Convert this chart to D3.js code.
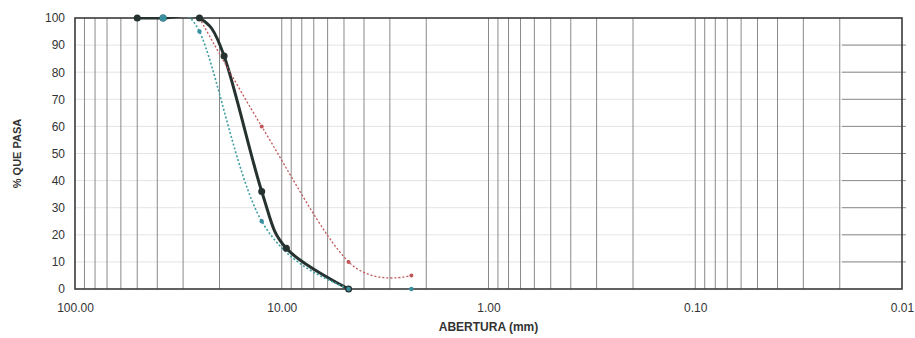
<!DOCTYPE html>
<html>
<head>
<meta charset="utf-8">
<script src="https://cdn.jsdelivr.net/npm/d3@7"></script>
<style>
  body { margin: 0; background: #fff; }
  svg { display: block; font-family: "Liberation Sans", Arial, sans-serif; }
</style>
</head>
<body>
<div id="chart"></div>
<script>
// sieve openings (mm) and % passing
const sieves = [50, 37.5, 25, 19, 12.5, 9.5, 4.75, 2.36];
const muestra = [100, 100, 100, 86, 36, 15, 0, null];
const limInf = [null, 100, 95, null, 25, null, 0, 0];
const limSup = [null, null, 100, null, 60, null, 10, 5];

const xLabels = [100, 10, 1, 0.1, 0.01];
const yTicks = [0, 10, 20, 30, 40, 50, 60, 70, 80, 90, 100];

const W = 915, H = 338;
const margin = { top: 18, right: 13, bottom: 49, left: 75 };

const svg = d3.select("#chart").append("svg")
    .attr("width", W)
    .attr("height", H);

const x = d3.scaleLog()
    .domain([100, 0.01])
    .range([margin.left, W - margin.right]);

const y = d3.scaleLinear()
    .domain([0, 100])
    .range([H - margin.bottom, margin.top]);

const pts = vals => sieves.map((s, i) => ({ s: s, v: vals[i] })).filter(d => d.v !== null);

svg.append("clipPath").attr("id", "clip")
  .append("rect")
    .attr("x", margin.left).attr("y", margin.top - 1)
    .attr("width", x.range()[1] - margin.left)
    .attr("height", y(0) - margin.top + 2);

// faint horizontal grid
svg.append("g")
  .selectAll("line")
  .data(yTicks.slice(1, -1))
  .join("line")
    .attr("x1", margin.left).attr("x2", x.range()[1])
    .attr("y1", d => y(d)).attr("y2", d => y(d))
    .attr("stroke", "#e4e4e4");

// darker stubs at the right edge
svg.append("g")
  .selectAll("line")
  .data(yTicks.slice(1, -1))
  .join("line")
    .attr("x1", x(0.0195)).attr("x2", x.range()[1] + 4)
    .attr("y1", d => y(d)).attr("y2", d => y(d))
    .attr("stroke", "#8c8c8c");

// vertical log grid
svg.append("g")
  .selectAll("line")
  .data(x.ticks().filter(d => d < 100 && d > 0.01))
  .join("line")
    .attr("x1", d => x(d)).attr("x2", d => x(d))
    .attr("y1", margin.top).attr("y2", y(0))
    .attr("stroke", "#8a8a8a");

// plot border
svg.append("rect")
    .attr("x", margin.left).attr("y", margin.top)
    .attr("width", x.range()[1] - margin.left)
    .attr("height", y(0) - margin.top)
    .attr("fill", "none")
    .attr("stroke", "#3a3a3a")
    .attr("stroke-width", 1.6);

// excel-like smoothing
const line = d3.line()
    .x(d => x(d.s))
    .y(d => y(d.v))
    .curve(d3.curveCardinal.tension(0));

const plot = svg.append("g").attr("clip-path", "url(#clip)");

// sample curve
plot.append("path")
    .datum(pts(muestra))
    .attr("fill", "none")
    .attr("stroke", "#253230")
    .attr("stroke-width", 3)
    .attr("d", line);

// upper limit
plot.append("path")
    .datum(pts(limSup))
    .attr("fill", "none")
    .attr("stroke", "#c0575a")
    .attr("stroke-width", 1.3)
    .attr("stroke-dasharray", "2,2")
    .attr("d", line);

// lower limit
plot.append("path")
    .datum(pts(limInf))
    .attr("fill", "none")
    .attr("stroke", "#3f9fa3")
    .attr("stroke-width", 1.6)
    .attr("stroke-dasharray", "2,2")
    .attr("d", line);

svg.append("g")
  .selectAll("circle")
  .data(pts(limSup))
  .join("circle")
    .attr("cx", d => x(d.s)).attr("cy", d => y(d.v))
    .attr("r", 2)
    .attr("fill", "#c0575a");

svg.append("g")
  .selectAll("circle")
  .data(pts(muestra))
  .join("circle")
    .attr("cx", d => x(d.s)).attr("cy", d => y(d.v))
    .attr("r", 3.5)
    .attr("fill", "#253230");

svg.append("g")
  .selectAll("circle")
  .data(pts(limInf))
  .join("circle")
    .attr("cx", d => x(d.s)).attr("cy", d => y(d.v))
    .attr("r", (d, i) => i === 0 ? 3.5 : 2.2)
    .attr("fill", "#3a8fa0");

// axes
const xAxis = svg.append("g")
    .attr("transform", `translate(0,${y(0)})`)
    .call(d3.axisBottom(x).tickValues(xLabels).tickFormat(d3.format(".2f")).tickSize(0).tickPadding(14));
xAxis.select(".domain").remove();
xAxis.selectAll("text").attr("font-size", 12).attr("fill", "#333").attr("font-family", "Liberation Sans Narrow, Liberation Sans, sans-serif");

const yAxis = svg.append("g")
    .attr("transform", `translate(${margin.left},0)`)
    .call(d3.axisLeft(y).tickValues(yTicks).tickSize(0).tickPadding(10));
yAxis.select(".domain").remove();
yAxis.selectAll("text").attr("font-size", 12).attr("fill", "#333").attr("font-family", "Liberation Sans Narrow, Liberation Sans, sans-serif");

svg.append("text")
    .attr("x", (margin.left + x.range()[1]) / 2)
    .attr("y", 331)
    .attr("text-anchor", "middle")
    .attr("font-size", 12)
    .attr("font-weight", "bold")
    .attr("fill", "#333")
    .text("ABERTURA (mm)");

svg.append("text")
    .attr("transform", `translate(21,${(margin.top + y(0)) / 2}) rotate(-90)`)
    .attr("text-anchor", "middle")
    .attr("font-size", 11)
    .attr("font-weight", "bold")
    .attr("fill", "#333")
    .text("% QUE PASA");
</script>
</body>
</html>
